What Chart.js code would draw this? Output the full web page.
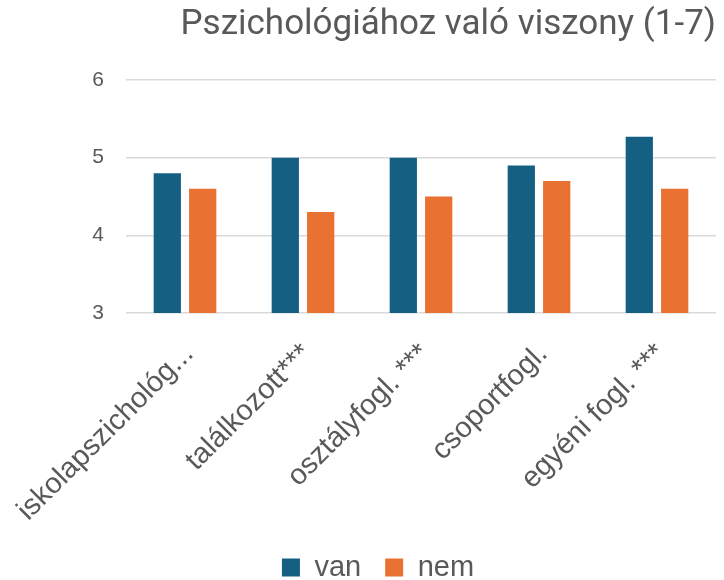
<!DOCTYPE html>
<html>
<head>
<meta charset="utf-8">
<script src="https://cdn.jsdelivr.net/npm/chart.js@4"></script>
<style>
  html, body { margin: 0; padding: 0; background: #fff; }
  #wrap { width: 724px; height: 580px; }
</style>
</head>
<body>
<div id="wrap"><canvas id="chart" width="724" height="580"></canvas></div>
<script>
const categories = ['iskolapszichológ...', 'találkozott***', 'osztályfogl. ***', 'csoportfogl.', 'egyéni fogl. ***'];
const vanValues = [4.8, 5.0, 5.0, 4.9, 5.27];
const nemValues = [4.6, 4.3, 4.5, 4.7, 4.6];
const yTicks = [3, 4, 5, 6];
const titleText = 'Pszichológiához való viszony (1-7)';

const grey = '#595959';
const titleFont = 'Roboto, "Liberation Sans", sans-serif';
const bodyFont = '"Liberation Sans", Arial, sans-serif';

// legend in the original sits a little right of the canvas centre
const shiftLegend = {
  id: 'shiftLegend',
  afterLayout(chart) {
    if (chart.legend) {
      chart.legend.left += 20;
      chart.legend.right += 20;
    }
  }
};

const ctx = document.getElementById('chart').getContext('2d');
const chart = new Chart(ctx, {
  type: 'bar',
  data: {
    labels: categories,
    datasets: [
      {
        label: 'van',
        data: vanValues,
        backgroundColor: '#156082',
        categoryPercentage: 0.6,
        barPercentage: 0.77
      },
      {
        label: 'nem',
        data: nemValues,
        backgroundColor: '#E97132',
        categoryPercentage: 0.6,
        barPercentage: 0.77
      }
    ]
  },
  plugins: [shiftLegend],
  options: {
    responsive: false,
    animation: false,
    layout: { padding: { left: 0, right: 8, top: 0, bottom: -12 } },
    plugins: {
      title: {
        display: true,
        text: titleText,
        align: 'end',
        color: grey,
        font: { family: titleFont, size: 35, weight: 'normal' },
        padding: { top: 4, bottom: 34 }
      },
      legend: {
        position: 'bottom',
        labels: {
          color: grey,
          font: { family: bodyFont, size: 29 },
          boxWidth: 18,
          boxHeight: 18,
          padding: 24
        }
      },
      tooltip: { enabled: false }
    },
    scales: {
      x: {
        grid: { display: false, drawTicks: false },
        border: { display: false },
        ticks: {
          color: grey,
          font: { family: bodyFont, size: 29 },
          maxRotation: 45,
          minRotation: 45,
          autoSkip: false,
          labelOffset: 4,
          padding: 24
        },
        afterFit: function(scale) {
          scale.height = 216;
          scale.paddingLeft = 0;
          scale.paddingRight = 0;
        }
      },
      y: {
        min: 3,
        max: 6,
        afterBuildTicks: function(scale) {
          scale.ticks = yTicks.map(v => ({ value: v }));
        },
        grid: { color: '#d9d9d9', lineWidth: 1.5, drawTicks: false },
        border: { display: false },
        ticks: {
          color: grey,
          font: { family: bodyFont, size: 21 },
          padding: 22
        },
        afterFit: function(scale) { scale.width = 126; }
      }
    }
  }
});
</script>
</body>
</html>
